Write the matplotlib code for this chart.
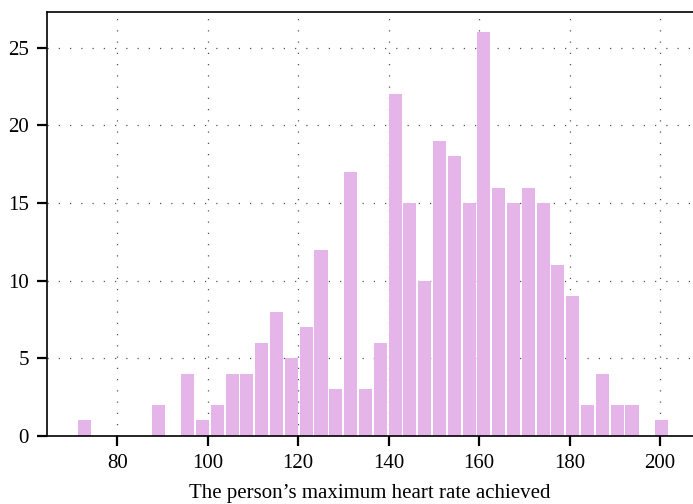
import numpy as np
import matplotlib.pyplot as plt

plt.rcParams['font.family'] = ['Liberation Serif', 'DejaVu Serif']

# histogram of max heart rate, 40 bins between 71 and 202
bin_start = 71
bin_end = 202
n_bins = 40
counts = [1, 0, 0, 0, 0, 2, 0, 4, 1, 2,
          4, 4, 6, 8, 5, 7, 12, 3, 17, 3,
          6, 22, 15, 10, 19, 18, 15, 26, 16, 15,
          16, 15, 11, 9, 2, 4, 2, 2, 0, 1]
x_ticks = [80, 100, 120, 140, 160, 180, 200]
y_ticks = [0, 5, 10, 15, 20, 25]
xlabel = "The person\u2019s maximum heart rate achieved"

edges = np.linspace(bin_start, bin_end, n_bins + 1)
centers = (edges[:-1] + edges[1:]) / 2
width = edges[1] - edges[0]

fig = plt.figure(figsize=(6.93, 5.04), dpi=100)
ax = fig.add_axes([47/693, 68/504, 1 - 47/693, (436-12)/504])

ax.bar(centers, counts, width=width*0.88, color='#e5b4e8', edgecolor='none', zorder=2)

ax.set_xlim(64.45, 207.3)
ax.set_ylim(0, 27.3)
ax.set_xticks(x_ticks)
ax.set_yticks(y_ticks)
ax.grid(True, color='#555555', linestyle=(0, (1, 8)), linewidth=0.9, zorder=1)
ax.tick_params(direction='out', length=7, width=1.6, labelsize=15, pad=6)
ax.spines['right'].set_visible(False)
for s in ['left', 'bottom', 'top']:
    ax.spines[s].set_linewidth(1.2)
ax.set_xlabel(xlabel, fontsize=15, labelpad=8)

fig.savefig('out.png', dpi=100)
